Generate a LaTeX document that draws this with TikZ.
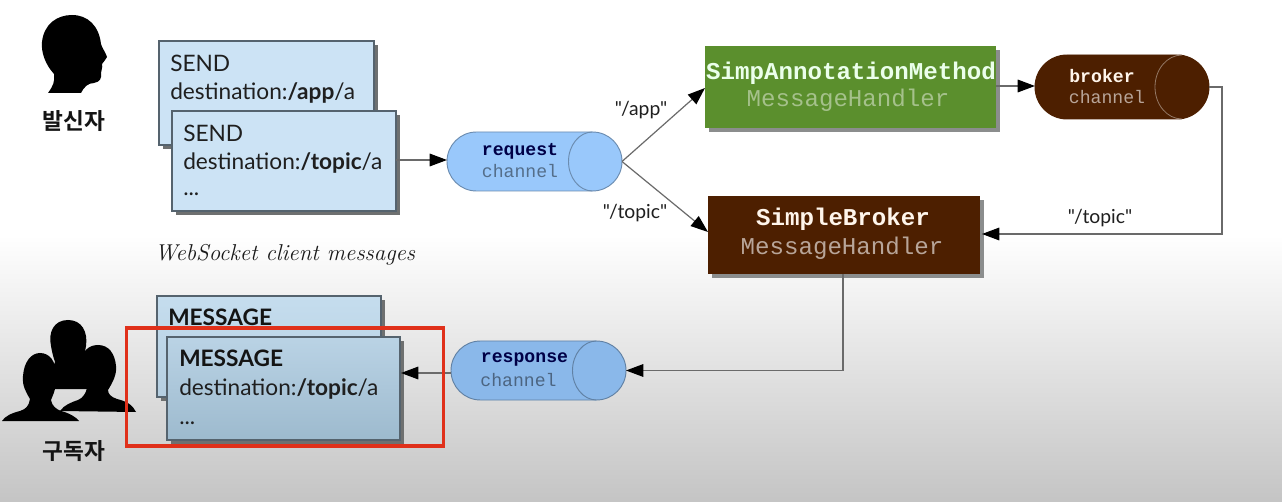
\documentclass[tikz,border=0pt]{standalone}
\usepackage{fontspec}
\setmonofont{Liberation Mono}
\newfontfamily\handfont{Lato}
\newfontfamily\krfont{Noto Sans CJK KR}[BoldFont=Noto Sans CJK KR Bold]
\usetikzlibrary{shapes.misc,arrows.meta,calc,shadows}
\definecolor{sendfill}{HTML}{CCE3F5}
\definecolor{edgegray}{HTML}{55636E}
\definecolor{shadowgray}{HTML}{6E7070}
\definecolor{linegray}{HTML}{6A6A6A}
\definecolor{reqfill}{HTML}{99C8FB}
\definecolor{resfill}{HTML}{8AB8EA}
\definecolor{brownfill}{HTML}{4D1F00}
\definecolor{greenfill}{HTML}{5B8F2D}
\definecolor{boxred}{HTML}{E0301A}
\definecolor{backtop}{HTML}{C5DDEE}
\definecolor{backbot}{HTML}{B5CEE0}
\definecolor{fronttop}{HTML}{BAD3E5}
\definecolor{frontbot}{HTML}{9DBACE}
\tikzset{
  x=0.75pt,y=-0.75pt,
  boxsize/.style 2 args={minimum width=#1*0.75pt,minimum height=#2*0.75pt},
  msgbox/.style={draw=edgegray,line width=.9pt,anchor=north west,inner sep=0pt,outer sep=0pt,
    drop shadow={shadow xshift=3pt,shadow yshift=-3pt,fill=shadowgray,opacity=1}},
  sendbox/.style={msgbox,fill=sendfill},
  recvback/.style={msgbox,top color=backtop,bottom color=backbot},
  recvbox/.style={msgbox,top color=fronttop,bottom color=frontbot},
  handler/.style={anchor=north west,inner sep=0pt,outer sep=0pt,
    drop shadow={shadow xshift=3pt,shadow yshift=-3pt,fill=shadowgray!80,opacity=1}},
  cyl/.style={rounded rectangle,rounded rectangle arc length=180,inner sep=0pt,outer sep=0pt,line width=.7pt},
  conn/.style={draw=linegray,line width=.9pt,-{Triangle[black,length=13pt,width=9.5pt]}},
  sil/.style={fill=black,draw=none},
  hand/.style={font=\handfont\fontsize{17}{20}\selectfont,text=black!88,inner sep=0pt},
  handb/.style={font=\handfont\bfseries\fontsize{17}{20}\selectfont,text=black!92,inner sep=0pt},
  edgelabel/.style={font=\handfont\fontsize{14.5}{16}\selectfont,text=black!88,inner sep=0pt},
  monobig/.style={font=\ttfamily\fontsize{18.1}{20}\selectfont,inner sep=0pt},
  monobigb/.style={font=\ttfamily\bfseries\fontsize{18.1}{20}\selectfont,inner sep=0pt},
  monosm/.style={font=\ttfamily\fontsize{13.6}{15}\selectfont,inner sep=0pt},
  monosmb/.style={font=\ttfamily\bfseries\fontsize{13.6}{15}\selectfont,inner sep=0pt},
  kr/.style={font=\krfont\bfseries\fontsize{17}{18}\selectfont,inner sep=0pt,text=black!92},
}
\begin{document}
\begin{tikzpicture}
\useasboundingbox (0,0) rectangle (1282,502);
% background
\fill[white] (0,0) rectangle (1282,502);
\shade[top color=white,bottom color=black!23] (0,235) rectangle (1282,502);

% sender head
\fill[sil] (48,93) .. controls (53,86) and (55,82) .. (54,74)
  .. controls (45,64) and (41,52) .. (42,42)
  .. controls (44,24) and (57,15) .. (72,15)
  .. controls (88,15) and (99,26) .. (101,44)
  .. controls (102,48) and (106,53) .. (107,57)
  .. controls (106,60) and (103,62) .. (102,64)
  .. controls (103,68) and (101,70) .. (101,73)
  .. controls (102,78) and (100,82) .. (94,83)
  .. controls (88,83) and (84,87) .. (81,93) -- cycle;
\node[kr] (sender) at (74,121) {발신자};

% subscribers
\fill[sil] (55,362) .. controls (53,356) and (52,352) .. (51,346)
  .. controls (48,332) and (54,320) .. (68,320)
  .. controls (82,320) and (88,332) .. (86,346)
  .. controls (85,352) and (84,356) .. (84,362) -- (90,389) -- (50,389) -- (50,375) -- cycle;
\fill[sil] (60,411) .. controls (64,405) and (72,402) .. (78,400)
  .. controls (83,398) and (86,393) .. (87,388)
  .. controls (81,380) and (79,373) .. (80,366)
  .. controls (81,352) and (88,345) .. (98,345)
  .. controls (109,345) and (115,354) .. (116,366)
  .. controls (117,374) and (113,382) .. (108,390)
  .. controls (108,394) and (111,397) .. (117,399)
  .. controls (126,401) and (133,405) .. (136,412) -- cycle;
\fill[sil] (2,421) .. controls (5,416) and (12,413) .. (20,411)
  .. controls (26,409) and (29,406) .. (30,399)
  .. controls (26,392) and (22,386) .. (23,376)
  .. controls (24,362) and (31,353) .. (40,353)
  .. controls (50,353) and (56,362) .. (56,374)
  .. controls (57,386) and (54,393) .. (51,400)
  .. controls (52,406) and (56,409) .. (61,411)
  .. controls (69,413) and (76,417) .. (79,421) -- cycle;
\node[kr] (subs) at (74,451) {구독자};

% message stacks
\node[sendbox,boxsize={215}{104}] (send1) at (159,41) {};
\node[sendbox,boxsize={224}{100}] (send2) at (172,111) {};
\node[hand,anchor=west] (s1a) at (170,63) {SEND};
\node[hand,anchor=west] (s1b) at (170,93) {destination:\textbf{/app}/a};
\node[hand,anchor=west] (s2a) at (183,133) {SEND};
\node[hand,anchor=west] (s2b) at (183,163) {destination:\textbf{/topic}/a};
\node[hand,anchor=west] (s2c) at (183,194) {...};
\node[font=\itshape\fontsize{17.2}{18}\selectfont,inner sep=0pt,text=black!90] (caption) at (285,255) {WebSocket client messages};

\node[recvback,boxsize={224}{101}] (msg1) at (157,296) {};
\node[handb,anchor=west] (m1a) at (168,317) {MESSAGE};
\node[recvbox,boxsize={233}{103}] (msg2) at (167,337) {};
\node[handb,anchor=west] (m2a) at (179,358) {MESSAGE};
\node[hand,anchor=west] (m2b) at (179,389) {destination:\textbf{/topic}/a};
\node[hand,anchor=west] (m2c) at (179,423) {...};

% handlers
\node[handler,fill=greenfill,boxsize={291}{82}] (simp) at (705,46) {};
\node[monobigb,text=white!92!green] (simp1) at (851,73) {SimpAnnotationMethod};
\node[monobig,text=greenfill!55!white] (simp2) at (848,100) {MessageHandler};
\node[handler,fill=brownfill,boxsize={272}{78}] (bro) at (708,196) {};
\node[monobigb,text=white!92!orange] (bro1) at (843,219) {SimpleBroker};
\node[monobig,text=brownfill!40!white] (bro2) at (842,248) {MessageHandler};

% channels
\node[cyl,draw=reqfill!70!black,fill=reqfill,minimum width=131.25pt,minimum height=44.25pt] (req) at (534.5,161.5) {};
\draw[reqfill!70!black,line width=.7pt] ($(req.east)+(-29.5,-29.5)$) arc[start angle=270,end angle=90,x radius=24,y radius=29.5];
\node[monosmb,text=black!60!blue!70!black] (req1) at (520,151) {request};
\node[monosm,text=reqfill!55!black] (req2) at (520,171) {channel};

\node[cyl,draw=resfill!70!black,fill=resfill,minimum width=131.25pt,minimum height=44.25pt] (res) at (538.5,370.5) {};
\draw[resfill!70!black,line width=.7pt] ($(res.east)+(-29.5,-29.5)$) arc[start angle=270,end angle=90,x radius=24,y radius=29.5];
\node[monosmb,text=black!60!blue!70!black] (res1) at (524.5,359) {response};
\node[monosm,text=resfill!55!black] (res2) at (518.5,380) {channel};

\node[cyl,draw=brownfill,fill=brownfill,minimum width=130.5pt,minimum height=48pt] (brk) at (1122,87) {};
\draw[brownfill!60!white,line width=.6pt] ($(brk.east)+(-27,-32)$) arc[start angle=270,end angle=90,x radius=27,y radius=32];
\node[monosmb,text=white!92!orange] (brk1) at (1102,76) {broker};
\node[monosm,text=brownfill!40!white] (brk2) at (1107,97) {channel};

% connectors
\coordinate (s2out) at (396,160);
\coordinate (reqin) at (447,160);
\draw[conn] (s2out) -- (reqin);
\coordinate (simpin) at (705,88);
\coordinate (broin) at (708,232);
\draw[conn] (req.east) -- (simpin);
\draw[conn] (req.east) -- (broin);
\coordinate (simpout) at (996,86);
\coordinate (brkin) at (1035,86);
\draw[conn] (simpout) -- (brkin);
\coordinate (c1) at (1222,87);
\coordinate (c2) at (1222,234);
\coordinate (brorin) at (982,234);
\draw[conn] (brk.east) -- (c1) -- (c2) -- (brorin);
\coordinate (broout) at (843,274);
\draw[conn] (broout) |- (res.east);
\coordinate (resout) at (451,373);
\coordinate (m2in) at (401,373);
\draw[conn] (resout) -- (m2in);

% labels
\node[edgelabel] (lapp) at (641,110) {"/app"};
\node[edgelabel] (ltopic) at (635,213) {"/topic"};
\node[edgelabel] (ltopic2) at (1100,218) {"/topic"};

% highlight
\node[draw=boxred,line width=2.4pt,anchor=north west,inner sep=0pt,outer sep=0pt,boxsize={317}{118}] (hl) at (126.5,328) {};
\end{tikzpicture}
\end{document}
